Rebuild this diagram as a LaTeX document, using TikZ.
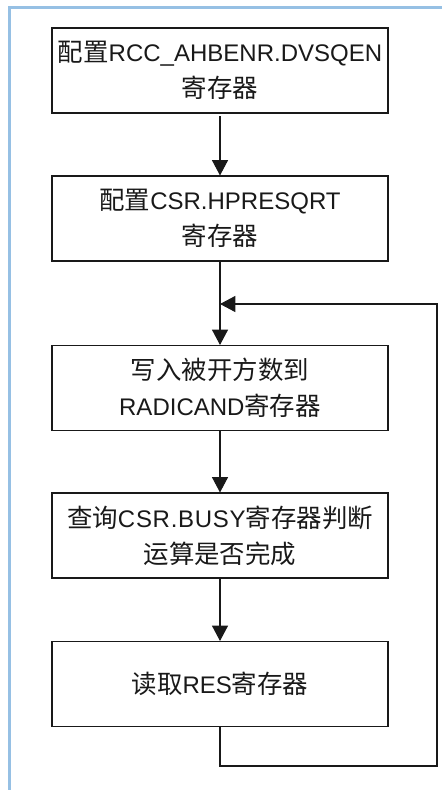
\documentclass[tikz,border=0pt]{standalone}
\usepackage{fontspec}
\setmainfont{Liberation Sans}
\newfontfamily\cjk[Scale=1.06]{Noto Sans CJK SC}
\usetikzlibrary{arrows.meta}
\definecolor{frameblue}{RGB}{150,192,228}
\definecolor{ink}{RGB}{25,25,25}
\tikzset{
  stepbox/.style={draw=ink, line width=0.8pt, minimum width=252pt, minimum height=63.75pt,
    align=center, font=\fontsize{18pt}{27pt}\selectfont, text=ink, inner sep=0pt},
  arr/.style={draw=ink, line width=0.8pt, -{Triangle[width=12pt,length=11.5pt]}},
  link/.style={draw=ink, line width=0.8pt}
}
\begin{document}
\begin{tikzpicture}[x=0.75pt, y=-0.75pt]
\useasboundingbox (0,0) rectangle (442,790);
\draw[frameblue, line width=1.6pt] (9.5,790) -- (9.5,7.5) -- (442,7.5);
\node[stepbox] (b1) at (220,70.5) {{\cjk 配置}RCC\_AHBENR.DVSQEN\\{\cjk 寄存器}};
\node[stepbox] (b2) at (220,218.5) {{\cjk 配置}CSR.HPRESQRT\\{\cjk 寄存器}};
\node[stepbox] (b3) at (220,388) {{\cjk 写入被开方数到}\\RADICAND{\cjk 寄存器}};
\node[stepbox] (b4) at (220,535.5) {{\addfontfeature{LetterSpace=3}{\cjk 查询}CSR.BUSY{\cjk 寄存器判断}}\\{\cjk 运算是否完成}};
\node[stepbox] (b5) at (220,684) {{\cjk 读取}RES{\cjk 寄存器}};
\coordinate (j) at (220,304);
\coordinate (c1) at (437,766);
\draw[arr] ([yshift=-2pt]b1.south) -- (b2.north);
\draw[arr] (b2.south) -- (b3.north);
\draw[arr] (b3.south) -- (b4.north);
\draw[arr] (b4.south) -- (b5.north);
\draw[arr] (b5.south) |- (c1) |- (j);
\end{tikzpicture}
\end{document}
